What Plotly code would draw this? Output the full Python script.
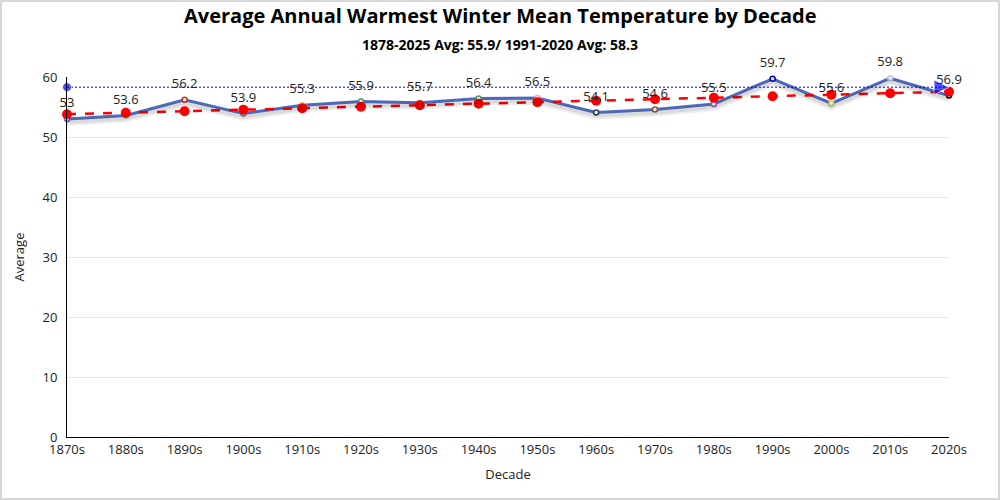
import plotly.graph_objects as go

decades = ["1870s","1880s","1890s","1900s","1910s","1920s","1930s","1940s",
           "1950s","1960s","1970s","1980s","1990s","2000s","2010s","2020s"]
averages = [53.0, 53.6, 56.2, 53.9, 55.3, 55.9, 55.7, 56.4,
            56.5, 54.1, 54.6, 55.5, 59.7, 55.6, 59.8, 56.9]
trend = [53.8, 54.05, 54.3, 54.55, 54.8, 55.05, 55.3, 55.55,
         55.8, 56.05, 56.3, 56.55, 56.8, 57.05, 57.3, 57.55]
recent_avg = 58.3
point_colors = ["#5470c6","#91cc75","#c23531","#9a60b4","#fac858","#3ba272","#73c0de","#3ba272",
                "#f7a1b5","#2f4554","#a0522d","#9a60b4","#0000cc","#d4d44a","#c0c8e0","#000000"]
title_text = "Average Annual Warmest Winter Mean Temperature by Decade"
subtitle_text = "1878-2025 Avg: 55.9/ 1991-2020 Avg: 58.3"

font = "Segoe UI, Open Sans, Noto Sans, sans-serif"
fig = go.Figure()

# soft shadow of the data line
fig.add_trace(go.Scatter(x=decades, y=averages, mode="lines", yaxis="y2",
                         line=dict(color="rgba(0,0,0,0.07)", width=8),
                         cliponaxis=False, hoverinfo="skip", showlegend=False))
fig.add_trace(go.Scatter(x=decades, y=averages, mode="lines", yaxis="y2",
                         line=dict(color="rgba(0,0,0,0.08)", width=4),
                         cliponaxis=False, hoverinfo="skip", showlegend=False))
fig.add_trace(go.Scatter(x=decades, y=averages, mode="lines+markers",
                         line=dict(color="#5470c6", width=3),
                         marker=dict(size=5, color="white",
                                     line=dict(color=point_colors, width=1.5)),
                         cliponaxis=False, showlegend=False))
fig.add_trace(go.Scatter(x=decades, y=trend, mode="lines+markers",
                         line=dict(color="red", width=2.5, dash="dash"),
                         marker=dict(size=10, color="red"),
                         cliponaxis=False, showlegend=False))
fig.add_trace(go.Scatter(x=[decades[0], decades[-1]], y=[recent_avg, recent_avg],
                         mode="lines+markers",
                         line=dict(color="blue", width=1, dash="2px,2px"),
                         marker=dict(size=[9, 15], color="blue",
                                     symbol=["circle", "arrow-right"]),
                         cliponaxis=False, showlegend=False))
# value labels on top
fig.add_trace(go.Scatter(x=decades, y=averages, mode="markers+text",
                         marker=dict(size=12, opacity=0),
                         text=[f"{v:g}" for v in averages], textposition="top center",
                         textfont=dict(size=13, color="#222", family=font),
                         cliponaxis=False, hoverinfo="skip", showlegend=False))

L, R, T, B = 67, 51, 77, 63
pw, ph = 1000 - L - R, 500 - T - B
fig.add_shape(type="rect", xref="paper", yref="paper",
              x0=(1 - L) / pw, x1=(999 - L) / pw,
              y0=-(499 - T - ph) / ph, y1=(T + ph - 1) / ph,
              line=dict(color="#cccccc", width=1.5))

fig.add_annotation(text=f"<b>{title_text}</b>", xref="paper", yref="paper",
                   x=(500 - L) / pw, y=(T + ph - 16) / ph, showarrow=False,
                   xanchor="center", yanchor="middle",
                   font=dict(size=20, color="black", family=font))
fig.add_annotation(text=f"<b>{subtitle_text}</b>", xref="paper", yref="paper",
                   x=(500 - L) / pw, y=(T + ph - 44) / ph, showarrow=False,
                   xanchor="center", yanchor="middle",
                   font=dict(size=14, color="black", family=font))

fig.update_layout(
    width=1000, height=500,
    margin=dict(l=L, r=R, t=T, b=B),
    paper_bgcolor="white", plot_bgcolor="white",
    font=dict(family=font, size=13, color="#222"),
    xaxis=dict(type="category", range=[0, 15], showgrid=False, showline=True,
               linecolor="black", linewidth=1, ticks="", tickfont=dict(size=13),
               title=dict(text="Decade", font=dict(size=13), standoff=13)),
    yaxis=dict(range=[0, 60], dtick=10, showgrid=True, gridcolor="#e6e6e6",
               showline=True, linecolor="black", linewidth=1, zeroline=False,
               tickfont=dict(size=13), ticklabelstandoff=6,
               title=dict(text="Average", font=dict(size=13), standoff=14)),
    yaxis2=dict(range=[0.5, 60.5], overlaying="y", visible=False),
)
fig.write_html("out.html", config={"displayModeBar": False},
               post_script="document.body.style.margin='0';document.body.style.overflow='hidden';")
